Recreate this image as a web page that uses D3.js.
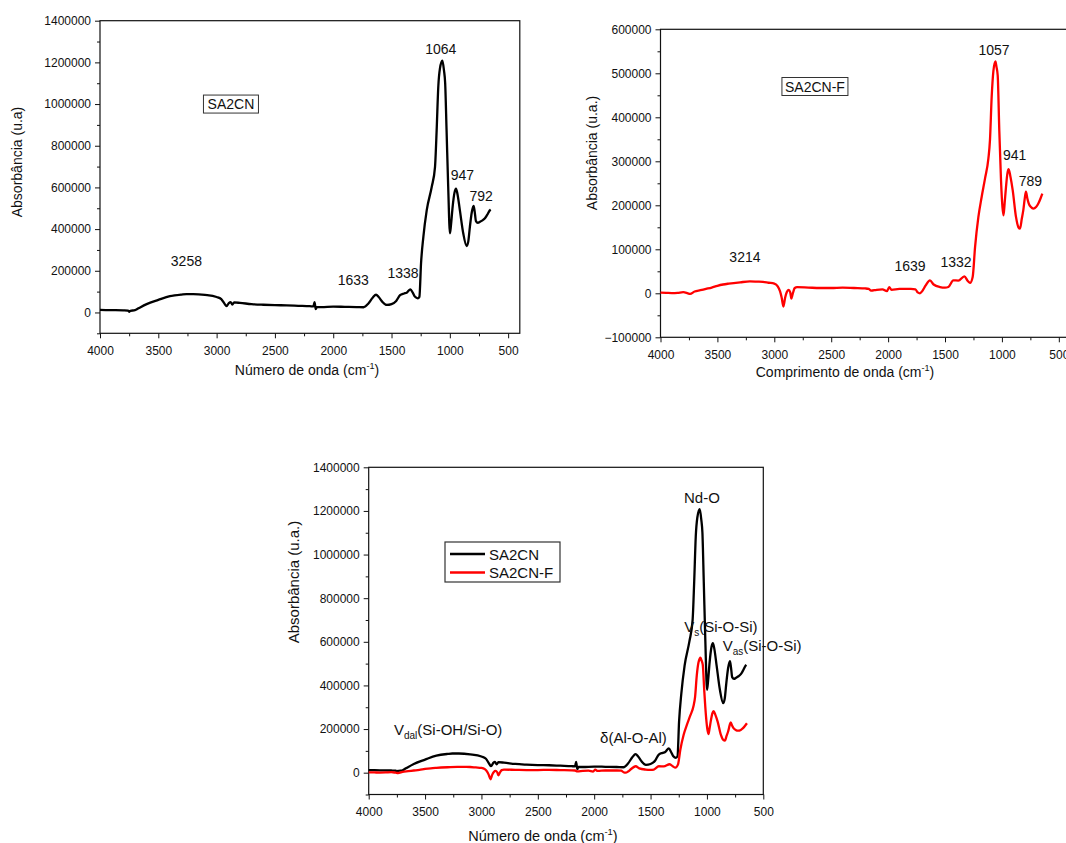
<!DOCTYPE html>
<html>
<head>
<meta charset="utf-8">
<script src="https://cdn.jsdelivr.net/npm/d3@7"></script>
<style>
  body { margin: 0; background: #fff; }
  text { font-family: "Liberation Sans", Arial, sans-serif; fill: #111; }
</style>
</head>
<body>
<div class="container"></div>
<script>
const w = 1066;
const h = 843;

// SA2CN spectrum (black)
const waveA = [4000, 3900, 3800, 3760, 3750, 3740, 3700, 3670, 3600, 3500, 3400, 3300, 3258, 3200, 3100, 3000,
  2960, 2930, 2915, 2895, 2880, 2865, 2850, 2800, 2700, 2600, 2500, 2400, 2300, 2200, 2170, 2160, 2150, 2140,
  2100, 2000, 1900, 1800, 1740, 1700, 1660, 1633, 1610, 1580, 1541, 1500, 1460, 1427, 1393, 1370,
  1338, 1318, 1298, 1275, 1261, 1247, 1227, 1198, 1155, 1127, 1113, 1099, 1085, 1064, 1050, 1040, 1028,
  1014, 999, 990, 976, 960, 947, 935, 914, 885, 856, 842, 828, 812, 796, 786, 776, 760,
  742, 720, 699, 680, 656, 650];
const sa2cn = [12000, 11000, 10000, 9000, 3000, 8000, 11000, 20000, 40000, 60000, 78000, 86000, 88000, 88000, 84000, 74000,
  64000, 40000, 30000, 45000, 50000, 38000, 48000, 46000, 40000, 37000, 35000, 34000, 32000, 30000, 29000, 50000, 16000, 26000,
  26000, 28000, 27000, 26000, 25000, 42000, 72000, 85000, 74000, 52000, 36000, 40000, 55000, 83000, 91000, 95000,
  111000, 95000, 75000, 68000, 75000, 235000, 363000, 491000, 603000, 699000, 875000, 1083000, 1170000, 1208000, 1160000, 1100000, 875000,
  603000, 380000, 420000, 507000, 575000, 594000, 570000, 491000, 380000, 319000, 340000, 411000, 480000, 511000, 480000, 438000, 430000,
  435000, 442000, 452000, 468000, 491000, 494000];

// SA2CN-F spectrum (red)
const waveB = [4000, 3950, 3900, 3850, 3800, 3760, 3740, 3700, 3650, 3600, 3550, 3500, 3450, 3400, 3300, 3214, 3150, 3100,
  3050, 3000, 2970, 2950, 2935, 2920, 2905, 2890, 2875, 2860, 2850, 2840, 2820, 2800, 2700, 2600, 2500, 2400, 2300, 2200,
  2170, 2150, 2100, 2050, 2010, 1990, 1970, 1900, 1800, 1760, 1740, 1720, 1700, 1670, 1632, 1600, 1544, 1500, 1471,
  1427, 1383, 1330, 1300, 1280, 1257, 1236, 1207, 1178, 1149, 1119, 1105, 1090, 1075, 1057, 1048, 1037,
  1023, 1008, 995, 986, 976, 964, 952, 941, 925, 905, 876, 855, 841, 825, 812, 798, 789, 776, 764, 745, 724, 700, 680, 660, 645];
const sa2cnF = [1500, 1000, 500, 1000, 2500, 0, -1500, 4000, 7000, 10000, 13000, 17000, 20000, 22000, 25000, 27000, 26500, 26000,
  24000, 22000, 16000, 5000, -10000, -30000, -10000, 3000, 8000, 2000, -12000, -3000, 12000, 14000, 13000, 12000, 12000, 13000, 12000, 11000,
  10000, 6000, 8000, 9000, 5000, 14000, 8000, 10000, 10000, 9000, 2000, 0, 5000, 18000, 29500, 20000, 14300, 13000, 14300,
  29500, 28800, 38600, 28000, 23500, 37000, 105000, 173000, 219000, 260000, 306000, 348000, 446000, 505000, 527000, 515000, 495000,
  370000, 257000, 195000, 177000, 205000, 242000, 272000, 282000, 265000, 234000, 173000, 150000, 147000, 170000, 189000, 218000, 231000, 215000, 204000, 196000, 192500, 196000, 204000, 216000, 226500];

const xTicks = [4000, 3500, 3000, 2500, 2000, 1500, 1000, 500];
const xMinor = [3750, 3250, 2750, 2250, 1750, 1250, 750];
const yTicksBig = [0, 200000, 400000, 600000, 800000, 1000000, 1200000, 1400000];
const yMinorBig = [-100000, 100000, 300000, 500000, 700000, 900000, 1100000, 1300000];
const yTicksRed = [-100000, 0, 100000, 200000, 300000, 400000, 500000, 600000];
const yMinorRed = [-50000, 50000, 150000, 250000, 350000, 450000, 550000];

// peak labels: [text, wavenumber, value] placed in data space
const peaksA = [['1064', 1078, 1239000], ['947', 893, 635000], ['792', 732, 535000],
  ['3258', 3259, 223000], ['1633', 1828, 131000], ['1338', 1401, 167000]];
const peaksB = [['1057', 1069, 541000], ['941', 888, 304000], ['789', 750, 243000],
  ['3214', 3258, 71000], ['1639', 1808, 50000], ['1332', 1403, 59000]];

let svg = null;

window.onload = function () {
  setSvg();
  drawTopLeft();
  drawTopRight();
  drawBottom();
};

function setSvg() {
  svg = d3.select('.container').append('svg')
    .attr('width', w).attr('height', h);
}

function panel(p) {
  const x = d3.scaleLinear().domain(p.xDom).range([p.left, p.right]);
  const y = d3.scaleLinear().domain(p.yDom).range([p.bottom, p.top]);

  const xa = svg.append('g').attr('transform', `translate(0,${p.bottom})`)
    .call(d3.axisBottom(x).tickValues(xTicks).tickFormat(d3.format('d')).tickSize(5).tickPadding(8).tickSizeOuter(0));
  svg.append('g').attr('transform', `translate(0,${p.bottom})`)
    .call(d3.axisBottom(x).tickValues(xMinor).tickFormat('').tickSize(3).tickSizeOuter(0));
  const ya = svg.append('g').attr('transform', `translate(${p.left},0)`)
    .call(d3.axisLeft(y).tickValues(p.yTicks).tickFormat(d3.format('d')).tickSize(5).tickPadding(4).tickSizeOuter(0));
  svg.append('g').attr('transform', `translate(${p.left},0)`)
    .call(d3.axisLeft(y).tickValues(p.yMinor).tickFormat('').tickSize(3).tickSizeOuter(0));

  svg.selectAll('.domain').remove();
  svg.selectAll('.tick line').attr('stroke', '#111');
  [xa, ya].forEach((g) => g.selectAll('text')
    .attr('font-size', p.tickFont).attr('font-family', '"Liberation Sans", Arial, sans-serif').attr('fill', '#111'));

  svg.append('rect')
    .attr('x', p.left).attr('y', p.top)
    .attr('width', p.right - p.left).attr('height', p.bottom - p.top)
    .attr('fill', 'none').attr('stroke', '#111').attr('stroke-width', 1.2);

  return { x, y };
}

function drawLine(s, wave, vals, color) {
  const line = d3.line()
    .x((d) => s.x(d[0]))
    .y((d) => s.y(d[1]))
    .curve(d3.curveMonotoneX);
  svg.append('path')
    .datum(d3.zip(wave, vals))
    .attr('d', line)
    .attr('fill', 'none')
    .attr('stroke', color)
    .attr('stroke-width', 2.3)
    .attr('stroke-linejoin', 'round');
}

function xTitle(cx, cy, label, size) {
  const t = svg.append('text').attr('x', cx).attr('y', cy)
    .attr('text-anchor', 'middle').attr('font-size', size);
  t.append('tspan').text(label + ' (cm');
  t.append('tspan').text('-1').attr('font-size', size * 0.65).attr('dy', -size * 0.4);
  t.append('tspan').text(')').attr('dy', size * 0.4);
}

function yTitle(cx, cy, label, size) {
  svg.append('text')
    .attr('transform', `translate(${cx + size * 0.35},${cy}) rotate(-90)`)
    .attr('text-anchor', 'middle').attr('font-size', size)
    .text(label);
}

function peakLabels(s, list) {
  svg.selectAll(null).data(list).enter().append('text')
    .attr('x', (d) => s.x(d[1]))
    .attr('y', (d) => s.y(d[2]))
    .attr('text-anchor', 'middle')
    .attr('font-size', 14)
    .text((d) => d[0]);
}

function boxLabel(s, wn, val, label, bw) {
  const cx = s.x(wn);
  const cy = s.y(val);
  svg.append('rect').attr('x', cx - bw / 2).attr('y', cy - 9).attr('width', bw).attr('height', 18)
    .attr('fill', 'none').attr('stroke', '#333').attr('stroke-width', 1);
  svg.append('text').attr('x', cx).attr('y', cy + 5).attr('text-anchor', 'middle')
    .attr('font-size', 14).text(label);
}

function drawTopLeft() {
  const s = panel({ left: 100, right: 519.8, top: 20.7, bottom: 333.3, xDom: [4000, 400], yDom: [-100000, 1400000],
    yTicks: yTicksBig, yMinor: yMinorBig, tickFont: 12 });
  drawLine(s, waveA, sa2cn, '#000');
  peakLabels(s, peaksA);
  boxLabel(s, 2877, 1000000, 'SA2CN', 55);
  xTitle(307, 375, 'Número de onda', 14);
  yTitle(17, 162, 'Absorbância (u.a)', 14);
}

function drawTopRight() {
  const s = panel({ left: 660.5, right: 1070.2, top: 29.3, bottom: 337.3, xDom: [4000, 400], yDom: [-100000, 600000],
    yTicks: yTicksRed, yMinor: yMinorRed, tickFont: 12 });
  drawLine(s, waveB, sa2cnF, '#f00');
  peakLabels(s, peaksB);
  boxLabel(s, 2643, 470000, 'SA2CN-F', 66);
  xTitle(845, 377, 'Comprimento de onda', 14);
  yTitle(592, 153, 'Absorbância (u.a.)', 14);
}

function drawBottom() {
  const s = panel({ left: 368.7, right: 763.3, top: 467.3, bottom: 794.5, xDom: [4000, 500], yDom: [-100000, 1400000],
    yTicks: yTicksBig, yMinor: yMinorBig, tickFont: 12 });
  drawLine(s, waveA, sa2cn, '#000');
  drawLine(s, waveB, sa2cnF, '#f00');

  svg.append('text').attr('x', s.x(1044)).attr('y', s.y(1235000))
    .attr('text-anchor', 'middle').attr('font-size', 15).text('Nd-O');

  const sub = [['V', 's', '(Si-O-Si)', 1201, 645000], ['V', 'as', '(Si-O-Si)', 860, 558000],
    ['V', 'dal', '(Si-OH/Si-O)', 3776, 173000]];
  sub.forEach((d) => {
    const t = svg.append('text').attr('x', s.x(d[3])).attr('y', s.y(d[4])).attr('font-size', 15);
    t.append('tspan').text(d[0]);
    t.append('tspan').text(d[1]).attr('font-size', 10).attr('dy', 4);
    t.append('tspan').text(d[2]).attr('dy', -4);
  });
  svg.append('text').attr('x', s.x(1948)).attr('y', s.y(134000))
    .attr('font-size', 15).text('δ(Al-O-Al)');

  // legend
  const lg = svg.append('g').attr('transform', 'translate(445,542)');
  lg.append('rect').attr('width', 115).attr('height', 40)
    .attr('fill', '#fff').attr('stroke', '#333').attr('stroke-width', 1.2);
  [['SA2CN', '#000'], ['SA2CN-F', '#f00']].forEach((d, i) => {
    const yy = 12 + i * 18.5;
    lg.append('line').attr('x1', 5).attr('x2', 40).attr('y1', yy).attr('y2', yy)
      .attr('stroke', d[1]).attr('stroke-width', 2.3);
    lg.append('text').attr('x', 44).attr('y', yy + 5.5).attr('font-size', 15).text(d[0]);
  });

  xTitle(543, 841, 'Número de onda', 14.5);
  yTitle(294, 582, 'Absorbância (u.a.)', 15);
}
</script>
</body>
</html>
